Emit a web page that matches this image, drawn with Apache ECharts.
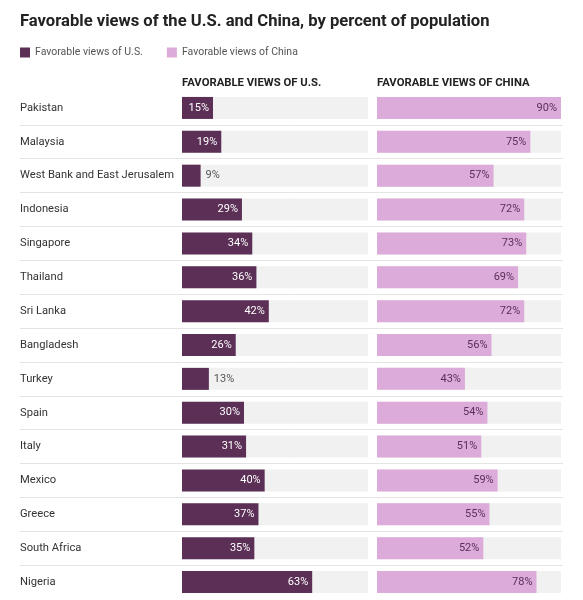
<!DOCTYPE html>
<html><head><meta charset="utf-8">
<script src="https://cdn.jsdelivr.net/npm/echarts@6/dist/echarts.min.js"></script>
<style>html,body{margin:0;padding:0;background:#fff}#c{width:583px;height:600px}</style>
</head><body><div id="c"></div>
<script>
const countries = ["Pakistan","Malaysia","West Bank and East Jerusalem","Indonesia","Singapore","Thailand","Sri Lanka","Bangladesh","Turkey","Spain","Italy","Mexico","Greece","South Africa","Nigeria"];
const usValues = [15,19,9,29,34,36,42,26,13,30,31,40,37,35,63];
const chinaValues = [90,75,57,72,73,69,72,56,43,54,51,59,55,52,78];
const seriesNames = ["Favorable views of U.S.","Favorable views of China"];
const headers = ["FAVORABLE VIEWS OF U.S.","FAVORABLE VIEWS OF CHINA"];

const US_COLOR = '#5b2f56', CN_COLOR = '#dcabd9', TRACK = '#f1f1f1';
const FONT = 'Roboto';
const chart = echarts.init(document.getElementById('c'));
const TOP = 91, H = 508;
const sepColors = countries.map((_, i) => i === 0 ? 'rgba(0,0,0,0)' : '#e4e4e4').concat(['rgba(0,0,0,0)']);

function mk(vals) {
  return vals.map(v => v < 14 ? {value: v, label: {position: 'right', color: '#555', distance: 5}} : v);
}

chart.setOption({
  animation: false,
  textStyle: {fontFamily: FONT},
  title: [
    {text: 'Favorable views of the U.S. and China, by percent of population', left: 20, top: 13, padding: 0,
     textStyle: {fontFamily: FONT, fontSize: 16.6, fontWeight: 'bold', color: '#222'}},
    {text: headers[0], left: 182, top: 78, padding: 0, textStyle: {fontFamily: FONT, fontSize: 11.3, fontWeight: 'bold', color: '#222'}},
    {text: headers[1], left: 377, top: 78, padding: 0, textStyle: {fontFamily: FONT, fontSize: 11.3, fontWeight: 'bold', color: '#222'}}
  ],
  legend: {
    left: 20, top: 47, padding: 0, icon: 'rect', itemWidth: 10, itemHeight: 10, itemGap: 24,
    textStyle: {fontFamily: FONT, fontSize: 10.5, color: '#555'},
    data: seriesNames
  },
  grid: [
    {left: 182, right: 215, top: TOP, height: H},
    {left: 377, right: 22, top: TOP, height: H},
    {left: 20, right: 20, top: TOP, height: H}
  ],
  xAxis: [
    {gridIndex: 0, type: 'value', min: 0, max: 90, show: false},
    {gridIndex: 1, type: 'value', min: 0, max: 90, show: false},
    {gridIndex: 2, type: 'value', min: 0, max: 90, show: false}
  ],
  yAxis: [
    {gridIndex: 0, type: 'category', data: countries, inverse: true,
     axisLine: {show: false}, axisTick: {show: false},
     axisLabel: {align: 'left', margin: 162, fontFamily: FONT, fontSize: 11.2, color: '#333'}},
    {gridIndex: 1, type: 'category', data: countries, inverse: true, show: false},
    {gridIndex: 2, type: 'category', data: countries, inverse: true,
     axisLine: {show: false}, axisTick: {show: false}, axisLabel: {show: false},
     splitLine: {show: true, lineStyle: {color: sepColors, width: 1}}}
  ],
  series: [
    {name: seriesNames[0], type: 'bar', xAxisIndex: 0, yAxisIndex: 0, data: mk(usValues), barWidth: 22,
     itemStyle: {color: US_COLOR}, showBackground: true, backgroundStyle: {color: TRACK},
     label: {show: true, position: 'insideRight', formatter: '{c}%', color: '#fff', fontSize: 11, fontFamily: FONT, distance: 4}},
    {name: seriesNames[1], type: 'bar', xAxisIndex: 1, yAxisIndex: 1, data: chinaValues, barWidth: 22,
     itemStyle: {color: CN_COLOR}, showBackground: true, backgroundStyle: {color: TRACK},
     label: {show: true, position: 'insideRight', formatter: '{c}%', color: '#5b2f56', fontSize: 11, fontFamily: FONT, distance: 4}}
  ]
});
</script></body></html>
